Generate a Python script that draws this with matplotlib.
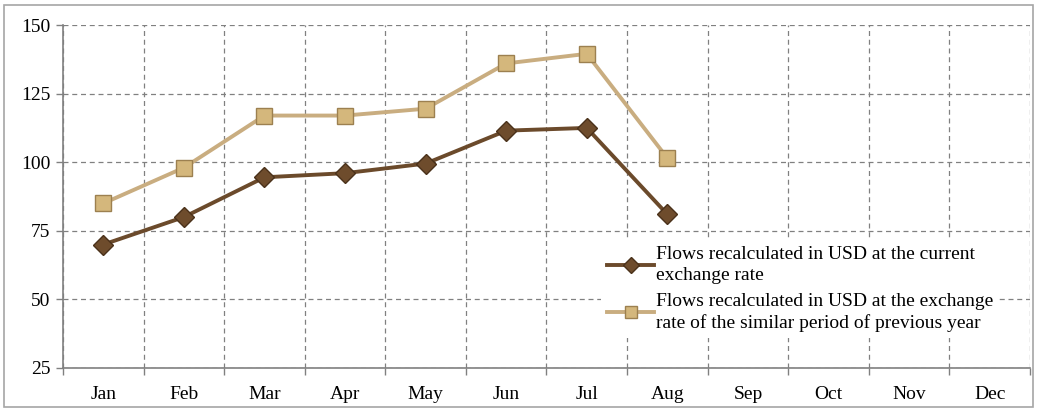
import matplotlib
matplotlib.use("Agg")
import matplotlib.pyplot as plt
from matplotlib.patches import Rectangle

months = ["Jan", "Feb", "Mar", "Apr", "May", "Jun", "Jul", "Aug", "Sep", "Oct", "Nov", "Dec"]
current_rate = [70, 80, 94.5, 96, 99.5, 111.5, 112.5, 81]
prev_year_rate = [85, 98, 117, 117, 119.5, 136, 139.5, 101.5]
yticks = [25, 50, 75, 100, 125, 150]
label_current = "Flows recalculated in USD at the current\nexchange rate"
label_prev = "Flows recalculated in USD at the exchange\nrate of the similar period of previous year"

plt.rcParams['font.family'] = ['Liberation Serif', 'DejaVu Serif']

fig = plt.figure(figsize=(10.37, 4.12), dpi=100)
fig.patches.append(Rectangle((0.004, 0.012), 0.992, 0.976, transform=fig.transFigure,
                             fill=False, edgecolor='#a6a6a6', linewidth=1.2))
ax = fig.add_axes([0.0608, 0.1068, 0.9324, 0.8325])

x = list(range(len(current_rate)))
ax.plot(x, current_rate, color='#6b4a2b', linewidth=2.8, marker='D', markersize=10,
        markerfacecolor='#6e4c2c', markeredgecolor='#4a311a', markeredgewidth=1,
        label=label_current, zorder=4)
ax.plot(x, prev_year_rate, color='#c9ad80', linewidth=2.8, marker='s', markersize=11,
        markerfacecolor='#d4b77c', markeredgecolor='#9c8050', markeredgewidth=1,
        label=label_prev, zorder=4)

ax.set_xlim(-0.5, 11.5)
ax.set_ylim(25, 150)
ax.set_yticks(yticks)
ax.set_xticks(range(len(months)))
ax.set_xticklabels(months)
ax.set_xticks([i + 0.5 for i in range(-1, 12)], minor=True)
ax.tick_params(axis='x', which='major', length=0, pad=13, labelsize=14)
ax.tick_params(axis='x', which='minor', length=5, color='#808080', width=1)
ax.tick_params(axis='y', length=5, color='#808080', width=1, labelsize=14, pad=4)

ax.grid(True, axis='y', which='major', linestyle=(0, (4, 3)), color='#808080', linewidth=0.9)
ax.grid(True, axis='x', which='minor', linestyle=(0, (4, 3)), color='#808080', linewidth=0.9)
ax.grid(False, axis='x', which='major')
for s in ['top', 'right']:
    ax.spines[s].set_visible(False)
for s in ['left', 'bottom']:
    ax.spines[s].set_color('#808080')
    ax.spines[s].set_linewidth(1.2)
ax.set_axisbelow(True)

leg = ax.legend(loc='lower right', bbox_to_anchor=(0.978, 0.06), frameon=True,
                fontsize=14, handlelength=2.4, handletextpad=0.1, labelspacing=0.45,
                borderpad=0.3, fancybox=False, markerscale=0.8)
leg.get_frame().set_edgecolor('none')
leg.get_frame().set_facecolor('white')
leg.get_frame().set_alpha(1)
for t in leg.get_texts():
    t.set_linespacing(1.3)

fig.savefig("out.png", dpi=100)
